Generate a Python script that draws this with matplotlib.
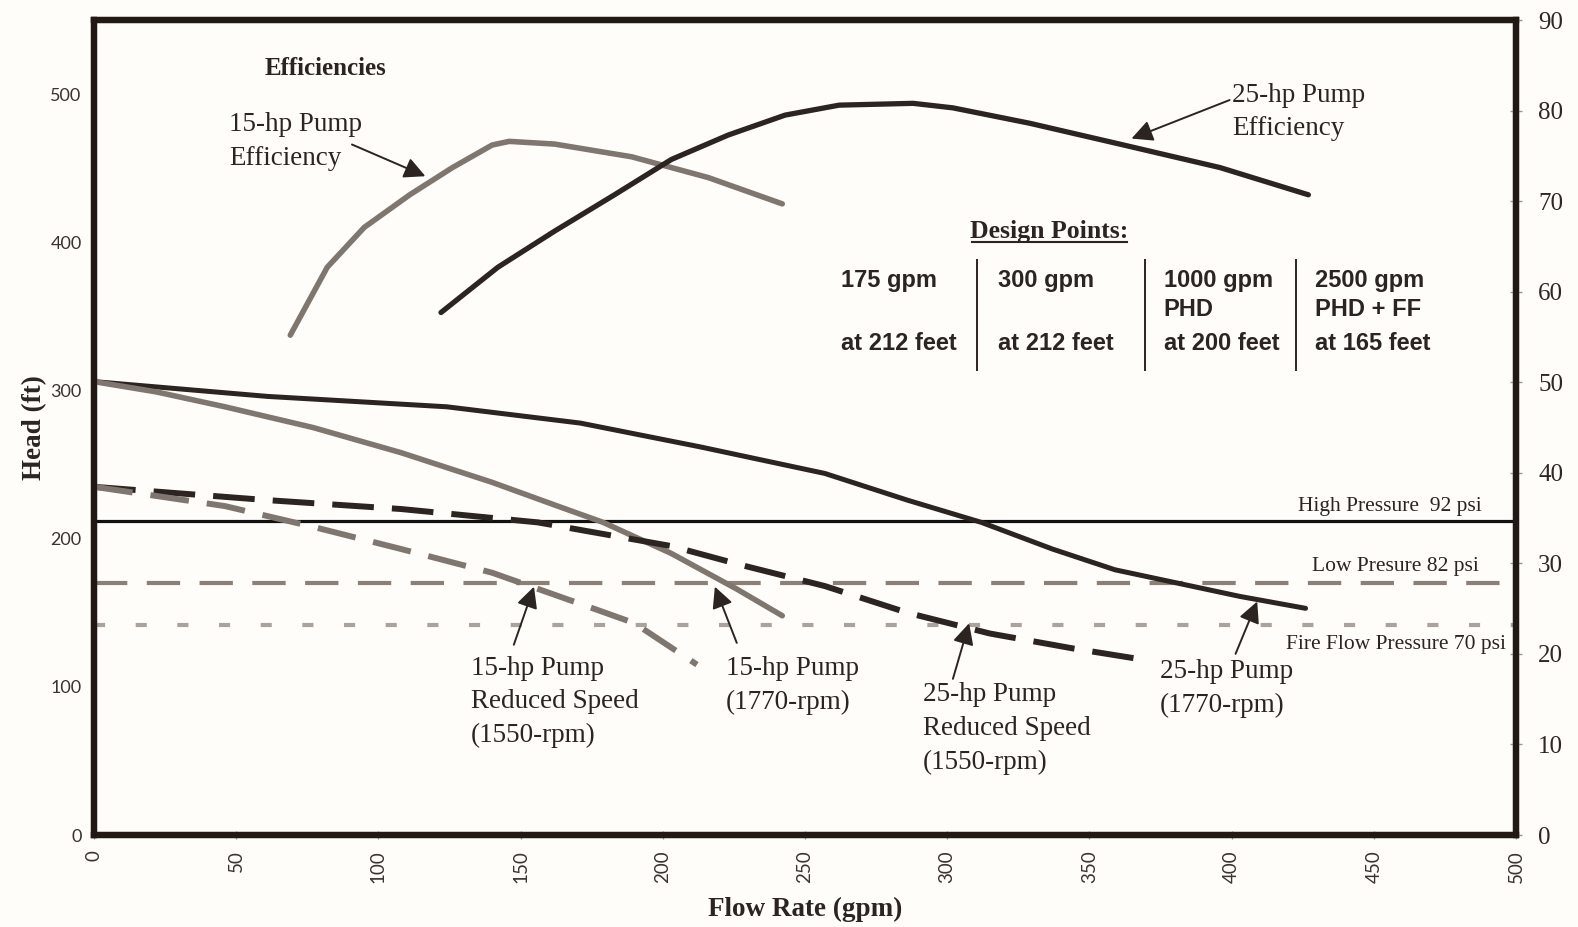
import matplotlib
matplotlib.use("Agg")
import matplotlib.pyplot as plt
from matplotlib.lines import Line2D

plt.rcParams['lines.scale_dashes'] = False
plt.rcParams['lines.solid_joinstyle'] = 'round'
plt.rcParams['lines.dash_joinstyle'] = 'round'

# pump curves, head (ft) vs flow (gpm)
h15_q = [0, 22, 46, 77, 108, 140, 163, 179, 203, 226, 242]
h15_h = [306, 299, 289, 275, 258, 238, 222, 211, 190, 166, 148]

h25_q = [0, 61, 124, 171, 213, 257, 286, 312, 337, 359, 381, 403, 426]
h25_h = [306, 296, 289, 278, 262, 244, 226, 211, 193, 179, 170, 161, 153]

r15_q = [0, 46, 77, 108, 140, 171, 190, 212]
r15_h = [235, 222, 208, 193, 177, 156, 143, 115]

r25_q = [0, 61, 108, 156, 203, 228, 257, 286, 315, 344, 370]
r25_h = [235, 226, 220, 211, 195, 182, 168, 150, 136, 126, 118]

# efficiencies (%) on right axis
eff15_q = [69, 82, 95, 111, 126, 140, 146, 162, 189, 216, 242]
eff15_v = [55.2, 62.7, 67.1, 70.7, 73.7, 76.2, 76.6, 76.3, 74.9, 72.6, 69.7]

eff25_q = [122, 142, 162, 183, 203, 223, 243, 262, 288, 302, 329, 362, 396, 427]
eff25_v = [57.7, 62.7, 66.7, 70.7, 74.6, 77.3, 79.5, 80.6, 80.8, 80.3, 78.6, 76.2, 73.7, 70.7]

# pressure levels (ft)
high_p = 212
low_p = 170
fire_p = 142

# design points table
dp_cols = [262.6, 317.7, 376.1, 429.2]
dp_rows = [374, 354.4, 332]
dp_text = [["175 gpm", "", "at 212 feet"],
           ["300 gpm", "", "at 212 feet"],
           ["1000 gpm", "PHD", "at 200 feet"],
           ["2500 gpm", "PHD + FF", "at 165 feet"]]
dp_seps = [310.4, 369.4, 422.8]

dark = '#2b2421'
gray = '#7f776f'
light = '#aaa39b'
serif = 'Liberation Serif'

fig = plt.figure(figsize=(15.78, 9.27), dpi=100, facecolor='#fefdf9')
ax = fig.add_axes([0.0596, 0.0992, 0.9011, 0.8792])
ax.set_facecolor('#fefdf9')
ax2 = ax.twinx()

ax.set_xlim(0, 500)
ax.set_ylim(0, 550)
ax2.set_ylim(0, 90)

# pressure lines
ax.axhline(high_p, color='#111111', lw=2.3, zorder=2)
ax.axhline(low_p, color='#8a8077', lw=3, dashes=(24, 14), zorder=2)
ax.axhline(fire_p, color=light, lw=3, dashes=(8, 22), zorder=2)

# head curves
ax.plot(h25_q, h25_h, color=dark, lw=3.6, solid_capstyle='round', zorder=3)
ax.plot(h15_q, h15_h, color=gray, lw=4, solid_capstyle='round', zorder=3)
ax.plot(r25_q, r25_h, color=dark, lw=4.3, dashes=(30, 13), zorder=3)
ax.plot(r15_q, r15_h, color=gray, lw=4.3, dashes=(28, 13), zorder=3)

# efficiency curves
ax2.plot(eff15_q, eff15_v, color=gray, lw=4, solid_capstyle='round', zorder=3)
ax2.plot(eff25_q, eff25_v, color=dark, lw=3.8, solid_capstyle='round', zorder=3)

tkw = dict(fontfamily=serif, fontsize=19.5, color=dark, linespacing=1.45)
akw = dict(arrowstyle='-|>', mutation_scale=32, lw=1.4, color=dark,
           shrinkA=0, shrinkB=0)

ax.text(60, 517, "Efficiencies", fontfamily=serif, fontsize=18, fontweight='bold',
        color=dark, va='center')

ax.text(47.5, 468, "15-hp Pump\nEfficiency", va='center', **tkw)
ax.annotate('', xy=(116.5, 444.6), xytext=(90.7, 466), arrowprops=akw)

ax.text(400.3, 488, "25-hp Pump\nEfficiency", va='center', **tkw)
ax.annotate('', xy=(364.8, 470), xytext=(399.3, 496), arrowprops=akw)

ax.text(132.5, 90, "15-hp Pump\nReduced Speed\n(1550-rpm)", va='center', **tkw)
ax.annotate('', xy=(154.7, 167.6), xytext=(147.6, 128.4), arrowprops=akw)

ax.text(222.3, 101, "15-hp Pump\n(1770-rpm)", va='center', **tkw)
ax.annotate('', xy=(218.3, 167.6), xytext=(226, 129.7), arrowprops=akw)

ax.text(291.4, 72, "25-hp Pump\nReduced Speed\n(1550-rpm)", va='center', **tkw)
ax.annotate('', xy=(307.7, 142.9), xytext=(302, 105.4), arrowprops=akw)

ax.text(374.8, 99, "25-hp Pump\n(1770-rpm)", va='center', **tkw)
ax.annotate('', xy=(409, 157.6), xytext=(401.4, 122.3), arrowprops=akw)

pkw = dict(fontfamily=serif, fontsize=15.5, color=dark, ha='right')
ax.text(488, 215, "High Pressure  92 psi", va='bottom', **pkw)
ax.text(486.8, 175, "Low Presure 82 psi", va='bottom', **pkw)
ax.text(496.6, 128.4, "Fire Flow Pressure 70 psi", va='center', **pkw)

# design points
title = ax.text(336, 407, "Design Points:", fontfamily=serif, fontsize=18.5,
                fontweight='bold', color=dark, ha='center', va='center')
for col, lines in zip(dp_cols, dp_text):
    for row, s in zip(dp_rows, lines):
        if s:
            ax.text(col, row, s, fontfamily='Liberation Sans', fontsize=17,
                    fontweight='bold', color=dark, va='center')
ax.vlines(dp_seps, 313, 388.5, color=dark, lw=1.4)

# axes styling
for a in (ax, ax2):
    for sp in a.spines.values():
        sp.set_linewidth(4.5)
        sp.set_color('#221915')

ax.set_xticks(range(0, 501, 50))
ax.set_yticks(range(0, 501, 100))
ax2.set_yticks(range(0, 91, 10))
ax.tick_params(axis='x', direction='inout', length=6, width=1, color='#999999',
               pad=8, labelrotation=90, labelsize=13.5, labelcolor='#3a332e')
ax.tick_params(axis='y', length=0, pad=9, labelsize=13, labelcolor='#3a332e')
for lab in ax.get_xticklabels() + ax.get_yticklabels():
    lab.set_fontfamily('Lato')
ax2.tick_params(axis='y', direction='inout', length=8, width=1, color='#999999',
                pad=12, labelsize=18, labelcolor='#2e2724')
for lab in ax2.get_yticklabels():
    lab.set_fontfamily(serif)

ax.set_xlabel("Flow Rate (gpm)", fontfamily=serif, fontsize=19.5, fontweight='bold',
              color=dark, labelpad=10)
ax.set_ylabel("Head (ft)", fontfamily=serif, fontsize=19.5, fontweight='bold',
              color=dark, labelpad=2)

# underline the Design Points title
fig.canvas.draw()
bb = title.get_window_extent()
fig.add_artist(Line2D([bb.x0 + 2, bb.x1 - 2], [bb.y0 + 1, bb.y0 + 1],
                      transform=None, color=dark, lw=1.5))

fig.savefig("out.png", dpi=100, facecolor=fig.get_facecolor())
